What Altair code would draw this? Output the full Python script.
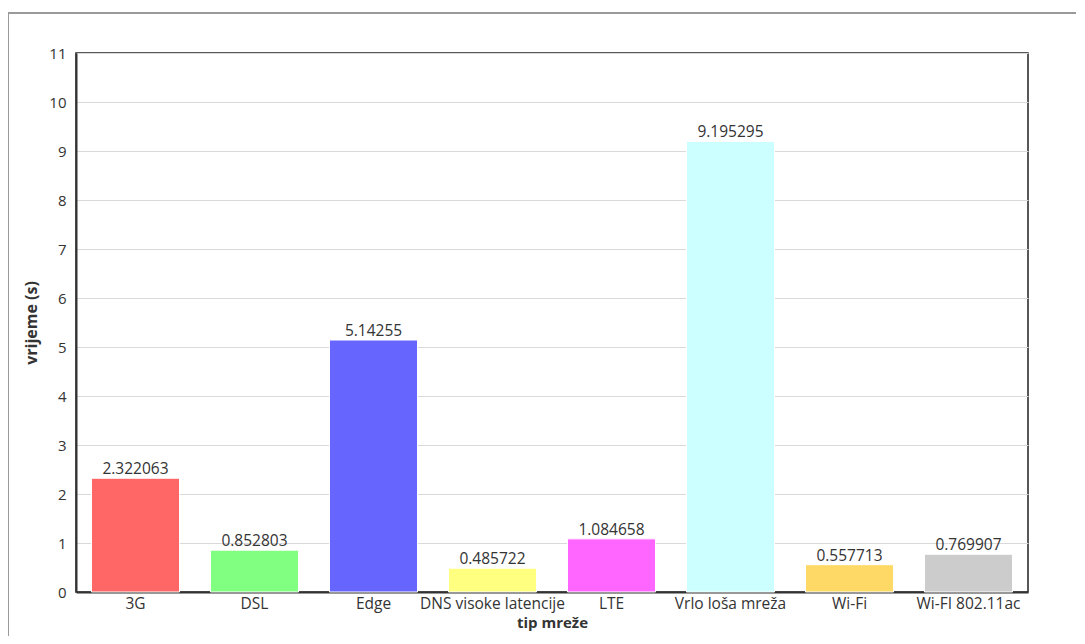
import altair as alt
import pandas as pd

categories = ["3G", "DSL", "Edge", "DNS visoke latencije", "LTE", "Vrlo loša mreža", "Wi-Fi", "Wi-FI 802.11ac"]
values = [2.322063, 0.852803, 5.14255, 0.485722, 1.084658, 9.195295, 0.557713, 0.769907]
colors = ["#ff6666", "#80ff80", "#6666ff", "#ffff80", "#ff66ff", "#ccffff", "#ffd966", "#cccccc"]
labels = ["2.322063", "0.852803", "5.14255", "0.485722", "1.084658", "9.195295", "0.557713", "0.769907"]

df = pd.DataFrame({"tip": categories, "v": values, "lab": labels})

W, H = 952, 539
FONT = "Open Sans"

x = alt.X("tip:N", sort=categories, title="tip mreže",
          scale=alt.Scale(paddingInner=0.26, paddingOuter=0.13),
          axis=alt.Axis(labelAngle=0, labelFont=FONT, labelFontSize=15.5, labelColor="#333",
                        titleFont=FONT, titleFontSize=15, titleFontWeight="bold", titleColor="#333",
                        tickSize=0, labelPadding=4, titlePadding=4, domainColor="#333", domainWidth=2,
                        grid=False))
y = alt.Y("v:Q", title="vrijeme (s)",
          scale=alt.Scale(domain=[0, 11], nice=False),
          axis=alt.Axis(values=list(range(12)), labelFont=FONT, labelFontSize=15, labelColor="#333",
                        titleFont=FONT, titleFontSize=16, titleFontWeight="bold", titleColor="#333",
                        tickSize=0, labelPadding=10, titlePadding=9, domainColor="#333", domainWidth=2,
                        gridColor="#d9d9d9", gridWidth=1))

bars = alt.Chart(df).mark_bar(stroke="white", strokeWidth=1).encode(
    x=x, y=y,
    color=alt.Color("tip:N", scale=alt.Scale(domain=categories, range=colors), legend=None),
)
text = alt.Chart(df).mark_text(font=FONT, fontSize=15.5, color="#333", baseline="bottom", dy=-1).encode(
    x=alt.X("tip:N", sort=categories), y="v:Q", text="lab:N"
)

border_top = alt.Chart(df).mark_rule(color="#999", strokeWidth=1).encode(
    x=alt.value(-68), x2=alt.value(1060), y=alt.value(-40)
)
border_left = alt.Chart(df).mark_rule(color="#999", strokeWidth=1).encode(
    x=alt.value(-68), y=alt.value(-40), y2=alt.value(600)
)

chart = alt.layer(bars, text, border_top, border_left).properties(
    width=W, height=H,
    autosize=alt.AutoSizeParams(type="none"),
    padding={"left": 68, "top": 45, "right": 48, "bottom": 44},
).configure_view(stroke="#222", strokeWidth=1.5)

chart.save("out.html", embed_options={"renderer": "svg", "actions": False})
